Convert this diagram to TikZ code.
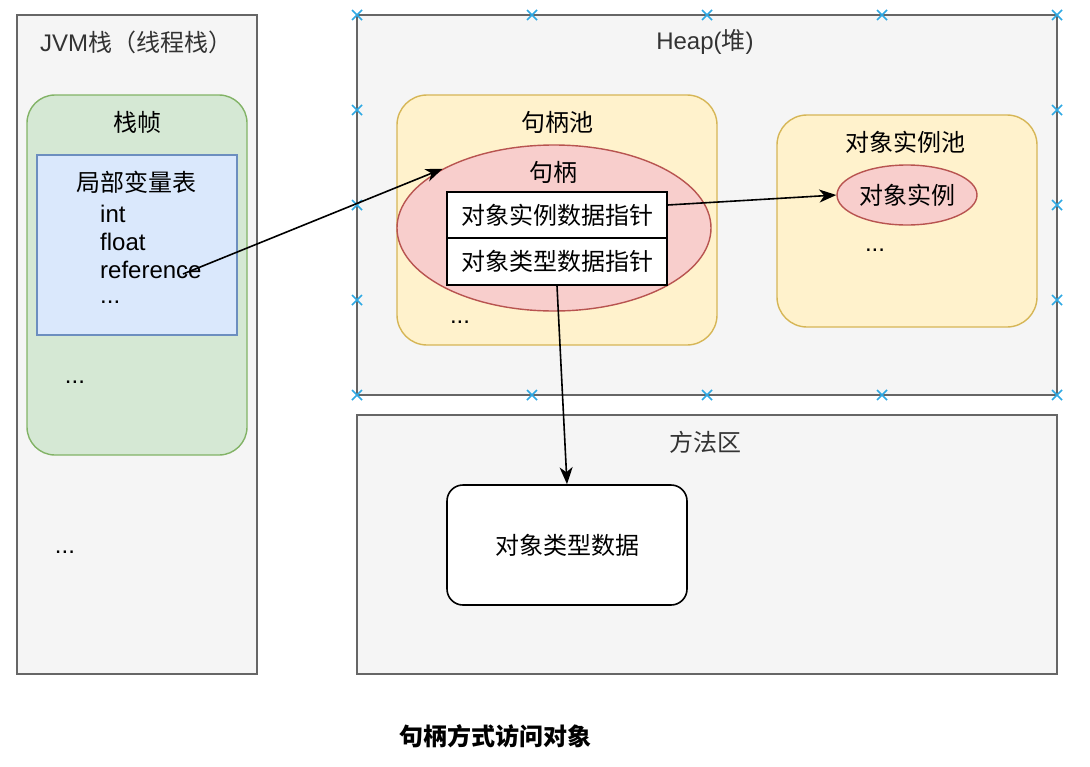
\documentclass[tikz,border=0pt]{standalone}
\usepackage{fontspec}
\setmainfont{Liberation Sans}
\newfontfamily\cjk{Noto Sans CJK SC}
\usetikzlibrary{shapes.geometric,arrows.meta}
\definecolor{grayfill}{HTML}{F5F5F5}
\definecolor{graydraw}{HTML}{666666}
\definecolor{greenfill}{HTML}{D5E8D4}
\definecolor{greendraw}{HTML}{82B366}
\definecolor{bluefill}{HTML}{DAE8FC}
\definecolor{bluedraw}{HTML}{6C8EBF}
\definecolor{yellowfill}{HTML}{FFF2CC}
\definecolor{yellowdraw}{HTML}{D6B656}
\definecolor{redfill}{HTML}{F8CECC}
\definecolor{reddraw}{HTML}{B85450}
\definecolor{titletext}{HTML}{333333}
\definecolor{markblue}{HTML}{2EA9E4}
\begin{document}
\begin{tikzpicture}[x=1pt,y=-1pt,
  font=\fontsize{24}{28}\selectfont,
  area/.style={draw=graydraw, fill=grayfill, line width=1.6pt, inner sep=0pt},
  framebox/.style={draw=greendraw, fill=greenfill, line width=1.4pt, rounded corners=28pt, inner sep=0pt},
  varbox/.style={draw=bluedraw, fill=bluefill, line width=1.4pt, inner sep=0pt},
  poolbox/.style={draw=yellowdraw, fill=yellowfill, line width=1.4pt, rounded corners=30pt, inner sep=0pt},
  objell/.style={ellipse, draw=reddraw, fill=redfill, line width=1.4pt, inner sep=0pt},
  cellbox/.style={draw=black, fill=white, line width=1.6pt, inner sep=0pt},
  typebox/.style={draw=black, fill=white, line width=1.6pt, rounded corners=16pt, inner sep=0pt},
  txt/.style={inner sep=0pt, text=black},
  ttl/.style={inner sep=0pt, text=titletext},
  link/.style={line width=1.6pt, -{Stealth[length=17pt,width=13pt,inset=5pt]}},
  selmark/.style={draw=markblue, line width=1.5pt}
]
\useasboundingbox[fill=white] (0,0) rectangle (1090,766);

% JVM stack
\node[area, minimum width=240pt, minimum height=659pt] (jvm) at (137,344.5) {};
\node[ttl, anchor=west] (jvmt) at (40,42) {JVM{\cjk 栈（线程栈）}};
\node[framebox, minimum width=220pt, minimum height=360pt] (frame) at (137,275) {};
\node[txt] (framet) at (137,122) {\cjk 栈帧};
\node[varbox, minimum width=200pt, minimum height=180pt] (locals) at (137,245) {};
\node[txt] (localst) at (136,182) {\cjk 局部变量表};
\node[txt, anchor=west] (vint) at (100,214) {int};
\node[txt, anchor=west] (vfloat) at (100,242) {float};
\node[txt, anchor=west] (vref) at (100,270) {reference};
\node[txt, anchor=west] (vdots) at (100,302) {...};
\node[txt] (framedots) at (75,382) {...};
\node[txt] (jvmdots) at (65,552) {...};
\coordinate (refend) at (183,274);

% Heap
\node[area, minimum width=700pt, minimum height=380pt] (heap) at (707,205) {};
\node[ttl] (heapt) at (705,42) {Heap({\cjk 堆})};
\node[poolbox, minimum width=320pt, minimum height=250pt] (hpool) at (557,220) {};
\node[txt] (hpoolt) at (557,122) {\cjk 句柄池};
\node[objell, minimum width=314pt, minimum height=166pt] (handle) at (554,228) {};
\node[txt] (handlet) at (553,172) {\cjk 句柄};
\node[cellbox, minimum width=220pt, minimum height=46pt] (ptr1) at (557,215) {\cjk 对象实例数据指针};
\node[cellbox, minimum width=220pt, minimum height=47pt] (ptr2) at (557,261.5) {\cjk 对象类型数据指针};
\node[txt] (hpooldots) at (460,322) {...};

\node[poolbox, minimum width=260pt, minimum height=212pt] (ipool) at (907,221) {};
\node[txt] (ipoolt) at (905,142) {\cjk 对象实例池};
\node[objell, minimum width=140pt, minimum height=60pt] (inst) at (907,195) {\cjk 对象实例};
\node[txt] (ipooldots) at (875,250) {...};

% selection markers on heap border
\foreach \mx in {357,532,707,882,1057}{
  \draw[selmark] (\mx-5,10) -- (\mx+5,20) (\mx-5,20) -- (\mx+5,10);
  \draw[selmark] (\mx-5,390) -- (\mx+5,400) (\mx-5,400) -- (\mx+5,390);
}
\foreach \my in {110,205,300}{
  \draw[selmark] (352,\my-5) -- (362,\my+5) (352,\my+5) -- (362,\my-5);
  \draw[selmark] (1052,\my-5) -- (1062,\my+5) (1052,\my+5) -- (1062,\my-5);
}

% Method area
\node[area, minimum width=700pt, minimum height=259pt] (method) at (707,544.5) {};
\node[ttl] (methodt) at (705,442) {\cjk 方法区};
\node[typebox, minimum width=240pt, minimum height=120pt] (mtype) at (567,545) {\cjk 对象类型数据};

% Caption
\node[txt] (caption) at (495,736) {\cjk\bfseries 句柄方式访问对象};

% Connectors
\draw[link] (refend) -- (handle.152);
\draw[link] ([yshift=10pt]ptr1.east) -- (inst.west);
\draw[link] (ptr2.south) -- (mtype.north);
\end{tikzpicture}
\end{document}
